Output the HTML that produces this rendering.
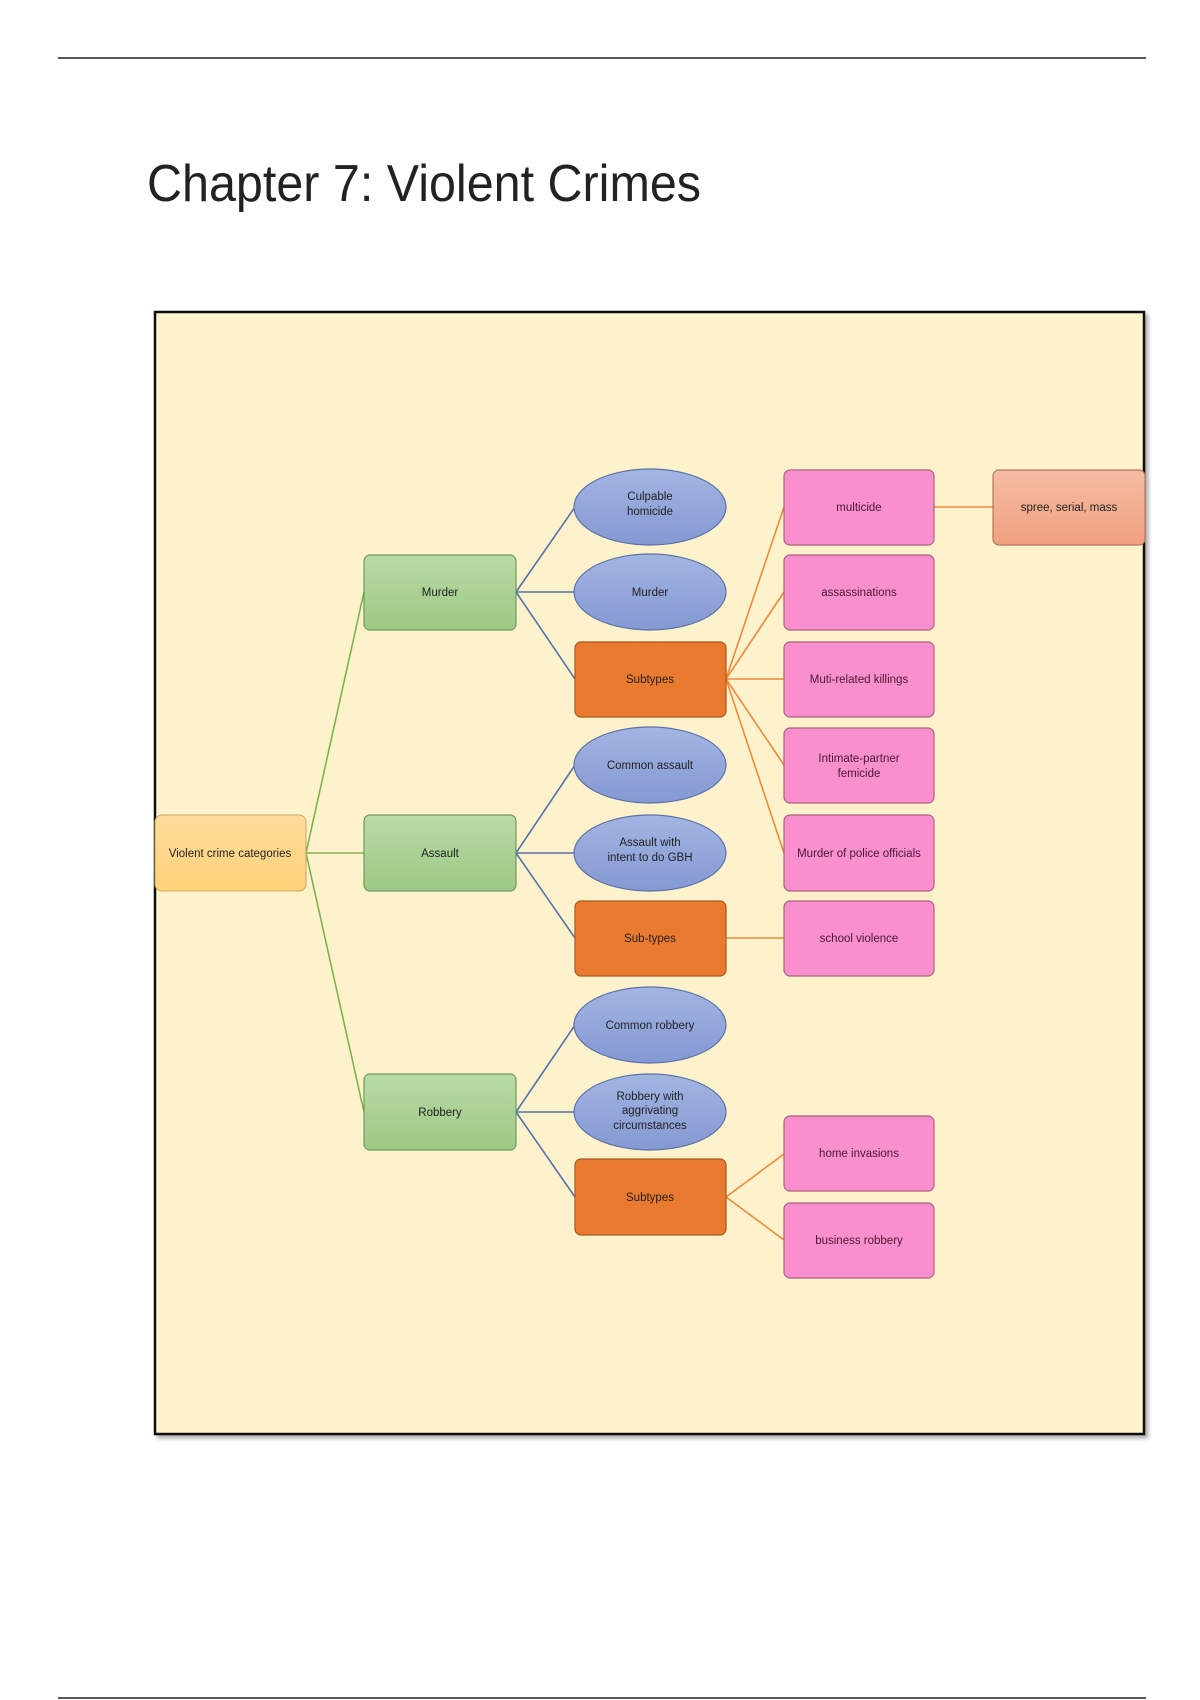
<!DOCTYPE html>
<html><head><meta charset="utf-8"><style>
html,body{margin:0;padding:0;background:#fff;}
svg{display:block;}
text{font-family:"Liberation Sans",sans-serif;}
</style></head><body>
<svg width="1200" height="1700" viewBox="0 0 1200 1700" xmlns="http://www.w3.org/2000/svg">
<defs>
<linearGradient id="gG" x1="0" y1="0" x2="0" y2="1"><stop offset="0" stop-color="#b9dba5"/><stop offset="1" stop-color="#9dc885"/></linearGradient>
<linearGradient id="gB" x1="0" y1="0" x2="0" y2="1"><stop offset="0" stop-color="#a3b5e2"/><stop offset="1" stop-color="#8499d3"/></linearGradient>
<linearGradient id="gY" x1="0" y1="0" x2="0" y2="1"><stop offset="0" stop-color="#ffdc9c"/><stop offset="1" stop-color="#ffd27a"/></linearGradient>
<linearGradient id="gS" x1="0" y1="0" x2="0" y2="1"><stop offset="0" stop-color="#f5bda4"/><stop offset="1" stop-color="#f0a07e"/></linearGradient>
<filter id="sh" x="-5%" y="-5%" width="110%" height="110%"><feDropShadow dx="3" dy="3" stdDeviation="2" flood-color="#000" flood-opacity="0.35"/></filter>
</defs>
<line x1="58" y1="58" x2="1146" y2="58" stroke="#222" stroke-width="1.5"/>
<line x1="58" y1="1698" x2="1146" y2="1698" stroke="#222" stroke-width="1.5"/>
<text x="147" y="201" font-size="52" fill="#222" textLength="554" lengthAdjust="spacingAndGlyphs">Chapter 7: Violent Crimes</text>

<rect x="155" y="312" width="989" height="1122" fill="#fef2cd" stroke="#111" stroke-width="2.5" filter="url(#sh)"/>

<g stroke-width="1.6" fill="none">
<g stroke="#7eb14f">
<line x1="306" y1="853" x2="364" y2="592"/>
<line x1="306" y1="853" x2="364" y2="853"/>
<line x1="306" y1="853" x2="364" y2="1112"/>
</g>
<g stroke="#5673a8">
<line x1="516" y1="592" x2="575" y2="507"/>
<line x1="516" y1="592" x2="575" y2="592"/>
<line x1="516" y1="592" x2="575" y2="679"/>
<line x1="516" y1="853" x2="575" y2="765"/>
<line x1="516" y1="853" x2="575" y2="853"/>
<line x1="516" y1="853" x2="575" y2="938"/>
<line x1="516" y1="1112" x2="575" y2="1025"/>
<line x1="516" y1="1112" x2="575" y2="1112"/>
<line x1="516" y1="1112" x2="575" y2="1197"/>
</g>
<g stroke="#ec8a3a">
<line x1="726" y1="679" x2="784" y2="507"/>
<line x1="726" y1="679" x2="784" y2="592"/>
<line x1="726" y1="679" x2="784" y2="679"/>
<line x1="726" y1="679" x2="784" y2="765"/>
<line x1="726" y1="679" x2="784" y2="853"/>
<line x1="726" y1="938" x2="784" y2="938"/>
<line x1="726" y1="1197" x2="784" y2="1154"/>
<line x1="726" y1="1197" x2="784" y2="1240"/>
<line x1="934" y1="507" x2="993" y2="507"/>
</g>
</g>

<g font-size="11.5" text-anchor="middle" fill="#222">
<rect x="155" y="815" width="151" height="76" rx="7" fill="url(#gY)" stroke="#c9a860"/>
<text x="230" y="857">Violent crime categories</text>

<g fill="url(#gG)" stroke="#6f9a5a" stroke-width="1.2">
<rect x="364" y="555" width="152" height="75" rx="6"/>
<rect x="364" y="815" width="152" height="76" rx="6"/>
<rect x="364" y="1074" width="152" height="76" rx="6"/>
</g>
<text x="440" y="596">Murder</text>
<text x="440" y="857">Assault</text>
<text x="440" y="1116">Robbery</text>

<g fill="url(#gB)" stroke="#5b72a8" stroke-width="1.2">
<ellipse cx="650" cy="507" rx="76" ry="38"/>
<ellipse cx="650" cy="592" rx="76" ry="38"/>
<ellipse cx="650" cy="765" rx="76" ry="38"/>
<ellipse cx="650" cy="853" rx="76" ry="38"/>
<ellipse cx="650" cy="1025" rx="76" ry="38"/>
<ellipse cx="650" cy="1112" rx="76" ry="38"/>
</g>
<text x="650" y="500">Culpable</text><text x="650" y="515">homicide</text>
<text x="650" y="596">Murder</text>
<text x="650" y="769">Common assault</text>
<text x="650" y="846">Assault with</text><text x="650" y="861">intent to do GBH</text>
<text x="650" y="1029">Common robbery</text>
<text x="650" y="1100">Robbery with</text><text x="650" y="1114">aggrivating</text><text x="650" y="1129">circumstances</text>

<g fill="#ea7a30" stroke="#a9591f" stroke-width="1.2">
<rect x="575" y="642" width="151" height="75" rx="6"/>
<rect x="575" y="901" width="151" height="75" rx="6"/>
<rect x="575" y="1159" width="151" height="76" rx="6"/>
</g>
<text x="650" y="683">Subtypes</text>
<text x="650" y="942">Sub-types</text>
<text x="650" y="1201">Subtypes</text>

<g fill="#f98fcc" stroke="#b0607f" stroke-width="1.2">
<rect x="784" y="470" width="150" height="75" rx="6"/>
<rect x="784" y="555" width="150" height="75" rx="6"/>
<rect x="784" y="642" width="150" height="75" rx="6"/>
<rect x="784" y="728" width="150" height="75" rx="6"/>
<rect x="784" y="815" width="150" height="76" rx="6"/>
<rect x="784" y="901" width="150" height="75" rx="6"/>
<rect x="784" y="1116" width="150" height="75" rx="6"/>
<rect x="784" y="1203" width="150" height="75" rx="6"/>
</g>
<g fill="#4a1838">
<text x="859" y="511">multicide</text>
<text x="859" y="596">assassinations</text>
<text x="859" y="683">Muti-related killings</text>
<text x="859" y="762">Intimate-partner</text><text x="859" y="777">femicide</text>
<text x="859" y="857">Murder of police officials</text>
<text x="859" y="942">school violence</text>
<text x="859" y="1157">home invasions</text>
<text x="859" y="1244">business robbery</text>
</g>
<rect x="993" y="470" width="152" height="75" rx="6" fill="url(#gS)" stroke="#b5755c" stroke-width="1.2"/>
<text x="1069" y="511">spree, serial, mass</text>
</g>
</svg>
</body></html>
